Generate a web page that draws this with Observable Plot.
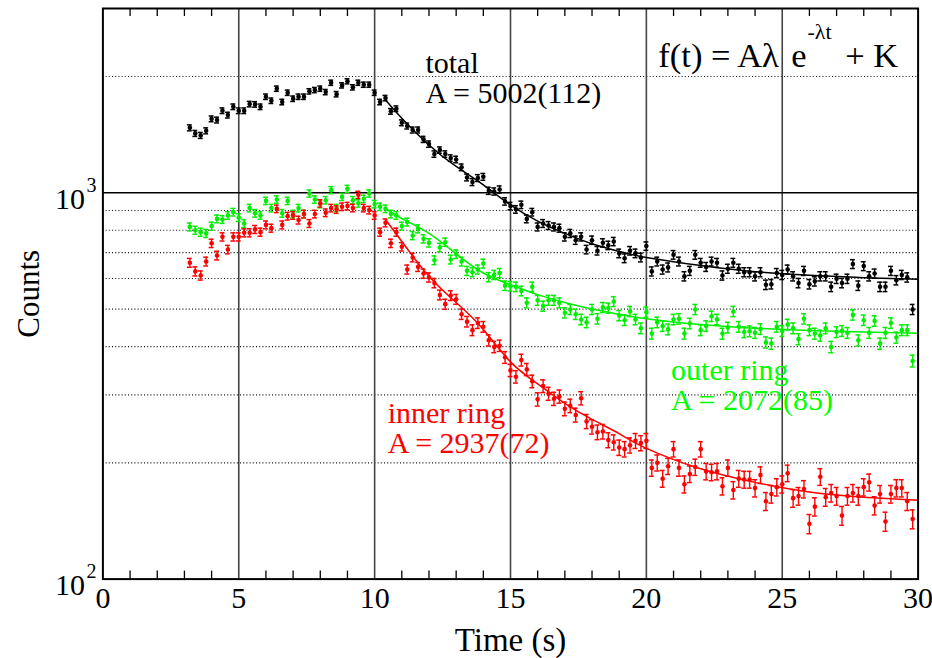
<!DOCTYPE html>
<html>
<head>
<meta charset="utf-8">
<script src="https://cdn.jsdelivr.net/npm/d3@7"></script>
<script src="https://cdn.jsdelivr.net/npm/@observablehq/plot@0.6"></script>
<style>
  html, body { margin: 0; padding: 0; background: #fff; }
  #chart { width: 932px; height: 658px; }
</style>
</head>
<body>
<div id="chart"></div>
<script>
// ---- data ----
// time bins (s)
const time = [
  3.2, 3.4, 3.6, 3.8, 4.0, 4.2, 4.4, 4.6, 4.8, 5.0,
  5.2, 5.4, 5.6, 5.8, 6.0, 6.2, 6.4, 6.6, 6.8, 7.0,
  7.2, 7.4, 7.6, 7.8, 8.0, 8.2, 8.4, 8.6, 8.8, 9.0,
  9.2, 9.4, 9.6, 9.8, 10.0, 10.2, 10.4, 10.6, 10.8, 11.0,
  11.2, 11.4, 11.6, 11.8, 12.0, 12.2, 12.4, 12.6, 12.8, 13.0,
  13.2, 13.4, 13.6, 13.8, 14.0, 14.2, 14.4, 14.6, 14.8, 15.0,
  15.2, 15.4, 15.6, 15.8, 16.0, 16.2, 16.4, 16.6, 16.8, 17.0,
  17.2, 17.4, 17.6, 17.8, 18.0, 18.2, 18.4, 18.6, 18.8, 19.0,
  19.2, 19.4, 19.6, 19.8, 20.0, 20.2, 20.4, 20.6, 20.8, 21.0,
  21.2, 21.4, 21.6, 21.8, 22.0, 22.2, 22.4, 22.6, 22.8, 23.0,
  23.2, 23.4, 23.6, 23.8, 24.0, 24.2, 24.4, 24.6, 24.8, 25.0,
  25.2, 25.4, 25.6, 25.8, 26.0, 26.2, 26.4, 26.6, 26.8, 27.0,
  27.2, 27.4, 27.6, 27.8, 28.0, 28.2, 28.4, 28.6, 28.8, 29.0,
  29.2, 29.4, 29.6, 29.8
];
const totalCounts = [
  1473, 1425, 1408, 1447, 1554, 1543, 1631, 1589, 1670, 1631,
  1631, 1697, 1694, 1670, 1773, 1731, 1860, 1718, 1816, 1752,
  1773, 1773, 1831, 1845, 1860, 1823, 1927, 1800, 1897, 1944,
  1875, 1927, 1905, 1905, 1816, 1718, 1759, 1625, 1651, 1518,
  1489, 1454, 1454, 1375, 1337, 1260, 1290, 1260, 1230, 1220,
  1164, 1096, 1066, 1092, 1100, 1012, 1008, 1020, 950, 924,
  906, 931, 856, 891, 816, 833, 823, 816, 810, 769,
  785, 754, 769, 713, 754, 708, 742, 731, 748, 697,
  677, 708, 697, 680, 728, 626, 664, 633, 641, 691,
  664, 608, 628, 691, 659, 643, 664, 659, 611, 636,
  659, 636, 623, 623, 608, 623, 578, 580, 620, 613,
  633, 608, 584, 628, 580, 590, 608, 608, 571, 599,
  584, 599, 654, 575, 646, 608, 618, 571, 571, 628,
  594, 613, 604, 499
];
const outerCounts = [
  816, 800, 791, 785, 820, 856, 853, 874, 891, 863,
  833, 913, 885, 874, 953, 913, 961, 885, 953, 881,
  913, 881, 996, 961, 935, 957, 1016, 913, 976, 1024,
  957, 939, 965, 996, 935, 920, 909, 881, 874, 820,
  840, 775, 807, 760, 742, 669, 722, 745, 672, 694,
  664, 628, 623, 633, 656, 605, 613, 620, 575, 573,
  571, 557, 519, 571, 527, 509, 527, 527, 519, 489,
  499, 485, 470, 462, 499, 472, 505, 503, 523, 481,
  468, 493, 470, 446, 491, 432, 462, 452, 443, 470,
  472, 432, 459, 499, 441, 452, 479, 470, 432, 448,
  493, 450, 436, 438, 434, 444, 410, 407, 450, 439,
  456, 446, 418, 472, 441, 432, 427, 446, 399, 436,
  439, 434, 483, 415, 468, 434, 466, 407, 434, 460,
  422, 441, 441, 367
];
const innerCounts = [
  659, 626, 611, 664, 740, 688, 769, 713, 769, 769,
  788, 788, 804, 791, 826, 810, 909, 826, 870, 874,
  850, 881, 833, 881, 939, 888, 913, 905, 920, 924,
  913, 988, 913, 902, 874, 791, 836, 740, 791, 725,
  633, 680, 643, 618, 604, 584, 544, 515, 542, 530,
  485, 464, 441, 460, 450, 415, 399, 402, 375, 347,
  334, 369, 349, 325, 292, 316, 302, 293, 297, 276,
  281, 266, 294, 256, 248, 240, 241, 229, 226, 219,
  217, 222, 228, 225, 228, 194, 200, 182, 196, 217,
  194, 176, 187, 195, 217, 190, 189, 190, 174, 194,
  170, 182, 181, 181, 172, 186, 159, 166, 173, 176,
  188, 162, 164, 171, 139, 154, 184, 163, 167, 164,
  146, 164, 167, 164, 173, 178, 155, 166, 141, 166,
  172, 172, 159, 143
];
// fitted curves
const fitTime  = [10.4, 11, 12, 13, 14, 15, 16, 17, 18, 19, 20, 22, 24, 26, 28, 30];
const fitTotal = [1740, 1560, 1330, 1170, 1048, 930, 845, 785, 738, 705, 680, 648, 625, 612, 603, 597];
const fitOuter = [910, 858, 785, 695, 620, 578, 545, 520, 500, 485, 472, 456, 446, 440, 436, 433];
const fitInner = [853, 748, 608, 520, 443, 365, 320, 285, 259, 238, 218, 193, 178, 168, 163, 160];

// axes
const xTicks = [0, 5, 10, 15, 20, 25, 30];
const xMinorTicks = [1, 2, 3, 4, 6, 7, 8, 9, 11, 12, 13, 14, 16, 17, 18, 19, 21, 22, 23, 24, 26, 27, 28, 29];
const xGrid = [5, 10, 15, 20, 25];
const yTicks = [100, 1000];
const yDotted = [200, 300, 400, 500, 600, 700, 800, 900, 2000];
const ySolid = [1000];

// ---- layout / style ----
const W = 932, H = 658;
const mL = 102.4, mR = 14.4, mT = 8, mB = 79.4;
const frameH = H - mT - mB;
const FONT = "'Liberation Serif', 'Times New Roman', Times, serif";
const BLACK = "#000000", GREEN = "#00ee00", RED = "#ff0000";
const NORM = 2.2;    // counts are scaled; Poisson error sigma = sqrt(v / NORM)
const CAP = 0.09;    // error bar cap half-width (s)

const mk = (vals) => time.map((t, i) => ({t, v: vals[i], e: Math.sqrt(vals[i] / NORM)}));
const fit = (vals) => fitTime.map((t, i) => ({t, v: vals[i]}));

function seriesMarks(rows, fitRows, color) {
  return [
    Plot.ruleX(rows, {x: "t", y1: d => d.v - d.e, y2: d => d.v + d.e, stroke: color, strokeWidth: 1.4}),
    Plot.ruleY(rows, {y: d => d.v + d.e, x1: d => d.t - CAP, x2: d => d.t + CAP, stroke: color, strokeWidth: 1.5}),
    Plot.ruleY(rows, {y: d => d.v - d.e, x1: d => d.t - CAP, x2: d => d.t + CAP, stroke: color, strokeWidth: 1.5}),
    Plot.dot(rows, {x: "t", y: "v", r: 2.3, fill: color, stroke: "none"}),
    Plot.line(fitRows, {x: "t", y: "v", stroke: color, strokeWidth: 1.5, curve: "natural"})
  ];
}

const formulaStyle = {textAnchor: "start", lineAnchor: "bottom", fill: BLACK};

const chart = Plot.plot({
  width: W, height: H,
  marginLeft: mL, marginRight: mR, marginTop: mT, marginBottom: mB,
  style: {fontFamily: FONT, fontSize: "30px", background: "#fff", color: "#000"},
  x: {domain: [0, 30]},
  y: {type: "log", domain: [100, 3000], axis: null},
  marks: [
    // grid
    Plot.ruleY(yDotted, {y: d => d, stroke: "#111", strokeWidth: 1.2, strokeDasharray: "1,2.2"}),
    Plot.ruleX(xGrid, {x: d => d, stroke: "#444", strokeWidth: 1.6}),
    Plot.ruleY(ySolid, {y: d => d, stroke: "#000", strokeWidth: 1.6}),
    // minor ticks (inside, bottom and top)
    Plot.ruleX(xMinorTicks, {x: d => d, insetTop: frameH - 8, stroke: "#000", strokeWidth: 1.3}),
    Plot.ruleX(xMinorTicks, {x: d => d, insetBottom: frameH - 8, stroke: "#000", strokeWidth: 1.3}),
    // data
    ...seriesMarks(mk(outerCounts), fit(fitOuter), GREEN),
    ...seriesMarks(mk(innerCounts), fit(fitInner), RED),
    ...seriesMarks(mk(totalCounts), fit(fitTotal), BLACK),
    // frame
    Plot.frame({stroke: "#000", strokeWidth: 2}),
    // x axis labels
    Plot.axisX(xTicks, {tickSize: 0, tickPadding: 8, fontSize: 30, label: null, fontVariant: "normal"}),
    Plot.text(["Time (s)"], {text: d => d, frameAnchor: "bottom", dy: 72, textAnchor: "middle", lineAnchor: "bottom", fontSize: 33}),
    // y axis labels 10^n
    Plot.text(yTicks, {y: d => d, text: () => "10", frameAnchor: "left", dx: -18, dy: 16, textAnchor: "end", lineAnchor: "bottom", fontSize: 30}),
    Plot.text(yTicks, {y: d => d, text: d => String(Math.round(Math.log10(d))), frameAnchor: "left", dx: -16.5, dy: -1, textAnchor: "start", lineAnchor: "bottom", fontSize: 20}),
    Plot.text(["Counts"], {text: d => d, frameAnchor: "left", dx: -63.5, rotate: -90, textAnchor: "middle", lineAnchor: "bottom", fontSize: 31}),
    // annotations
    Plot.text(["total\nA = 5002(112)"], {text: d => d, x: 11.87, y: 1711, textAnchor: "start", lineAnchor: "bottom", lineHeight: 1, fontSize: 30, fill: BLACK}),
    Plot.text(["outer ring\nA = 2072(85)"], {text: d => d, x: 20.91, y: 273.5, textAnchor: "start", lineAnchor: "bottom", lineHeight: 1, fontSize: 30, fill: "#00ff00"}),
    Plot.text(["inner ring\nA = 2937(72)"], {text: d => d, x: 10.48, y: 211.7, textAnchor: "start", lineAnchor: "bottom", lineHeight: 1, fontSize: 30, fill: RED}),
    // formula f(t) = Aλ e^{-λt} + K
    Plot.text(["f(t) = Aλ"], {...formulaStyle, text: d => d, x: 20.44, y: 2120, fontSize: 34.5}),
    Plot.text(["e"], {...formulaStyle, text: d => d, x: 25.33, y: 2120, fontSize: 34.5}),
    Plot.text(["-λt"], {...formulaStyle, text: d => d, x: 25.93, y: 2500, fontSize: 22}),
    Plot.text(["+ K"], {...formulaStyle, text: d => d, x: 27.32, y: 2120, fontSize: 34.5})
  ]
});

document.getElementById("chart").appendChild(chart);
</script>
</body>
</html>
